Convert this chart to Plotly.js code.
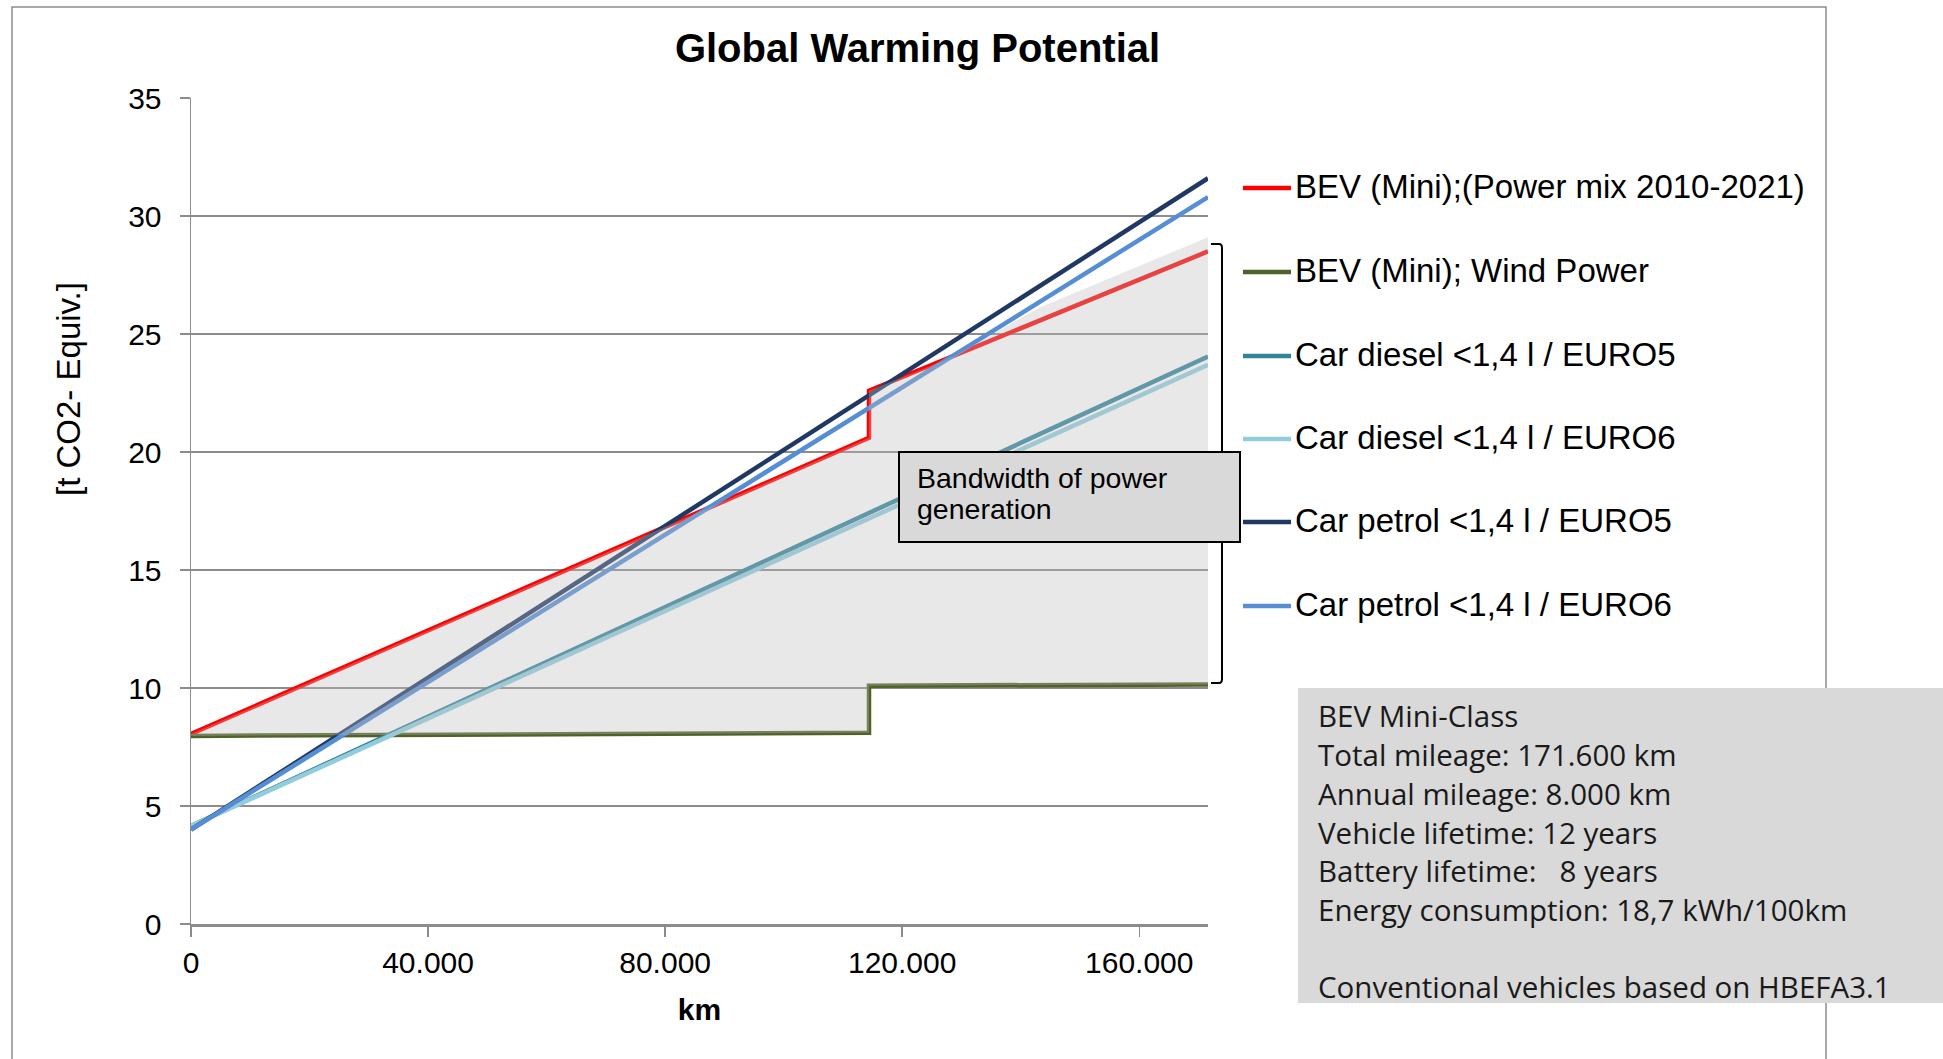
<!DOCTYPE html>
<html>
<head>
<meta charset="utf-8">
<script src="https://cdn.plot.ly/plotly-3.0.1.min.js"></script>
<style>html,body{margin:0;padding:0;background:#fff;}#chart{width:1943px;height:1059px;}</style>
</head>
<body>
<div id="chart"></div>
<script>
// ---- data ----
const seriesNames = [
  "BEV (Mini);(Power mix 2010-2021)",
  "BEV (Mini); Wind Power",
  "Car diesel <1,4 l / EURO5",
  "Car diesel <1,4 l / EURO6",
  "Car petrol <1,4 l / EURO5",
  "Car petrol <1,4 l / EURO6"
];
const kmBEV = [0, 114400, 114400, 171600];
const bevPowerMix = [8.05, 20.6, 22.6, 28.5];
const bevWind = [7.97, 8.1, 10.1, 10.15];
const kmCar = [0, 171600];
const dieselEuro5 = [4.15, 24.05];
const dieselEuro6 = [4.15, 23.7];
const petrolEuro5 = [4.0, 31.6];
const petrolEuro6 = [4.0, 30.8];
const kmBand = [0, 114400, 114400, 128700, 143000, 157300, 171600];
const bandLow = [7.97, 8.1, 10.1, 10.11, 10.12, 10.14, 10.15];
const bandHigh = [8.05, 20.6, 22.6, 24.05, 26.1, 27.6, 29.1];
const xTickVals = [0, 40000, 80000, 120000, 160000];
const xTickText = ["0", "40.000", "80.000", "120.000", "160.000"];
const yTickVals = [0, 5, 10, 15, 20, 25, 30, 35];
const infoLines = [
  "BEV Mini-Class",
  "Total mileage: 171.600 km",
  "Annual mileage: 8.000 km",
  "Vehicle lifetime: 12 years",
  "Battery lifetime:\u00a0\u00a0 8 years",
  "Energy consumption: 18,7 kWh/100km",
  "",
  "Conventional vehicles based on HBEFA3.1"
];
const bandLabelLines = ["Bandwidth of power", "generation"];

// ---- styles ----
const colors = ["#ff0000", "#4f6228", "#31849b", "#93cddd", "#1f3864", "#558ed5"];
const W = 1943, H = 1059;
const L = 191, R = 1208, T = 98, B = 924;
const px = x => (x - L) / (R - L);
const py = y => (B - y) / (B - T);
const ARIAL = "Liberation Sans, Arial, sans-serif";

const xs = [kmBEV, kmBEV, kmCar, kmCar, kmCar, kmCar];
const ys = [bevPowerMix, bevWind, dieselEuro5, dieselEuro6, petrolEuro5, petrolEuro6];

const traces = seriesNames.map((n, i) => ({
  type: "scatter", mode: "lines", name: n, x: xs[i], y: ys[i],
  line: {color: colors[i], width: 4.5}, showlegend: false, hoverinfo: "skip"
}));
// shaded bandwidth drawn over the lines (semi transparent)
traces.push({type: "scatter", mode: "lines", name: "band low", x: kmBand, y: bandLow, line: {width: 0, color: "rgba(0,0,0,0)"}, showlegend: false, hoverinfo: "skip"});
traces.push({type: "scatter", mode: "lines", name: "Bandwidth of power generation", x: kmBand, y: bandHigh, line: {width: 0, color: "rgba(0,0,0,0)"}, fill: "tonexty", fillcolor: "rgba(190,190,190,0.35)", showlegend: false, hoverinfo: "skip"});

const annotations = [];
const shapes = [
  // outer chart frame
  {type: "rect", xref: "paper", yref: "paper", x0: px(12), x1: px(1826), y0: py(7), y1: py(1080), line: {color: "#8c8c8c", width: 1.5}, fillcolor: "rgba(0,0,0,0)", layer: "below"},
  // bracket
  {type: "path", xref: "paper", yref: "paper", path: `M ${px(1211)} ${py(244)} L ${px(1219)} ${py(244)} Q ${px(1222)} ${py(244)} ${px(1222)} ${py(248)} L ${px(1222)} ${py(679)} Q ${px(1222)} ${py(683)} ${px(1219)} ${py(683)} L ${px(1211)} ${py(683)}`,
    line: {color: "#000", width: 2}, layer: "above"},
  // band label box
  {type: "rect", xref: "paper", yref: "paper", x0: px(899), x1: px(1240), y0: py(452), y1: py(542), line: {color: "#000", width: 2}, fillcolor: "#d9d9d9", layer: "above"},
  // info box
  {type: "rect", xref: "paper", yref: "paper", x0: px(1298), x1: px(1950), y0: py(688), y1: py(1003), line: {width: 0}, fillcolor: "#d9d9d9", layer: "above"}
];

// legend (key line + label per series)
const legendY = [188, 272, 356, 439, 522, 606];
seriesNames.forEach((n, i) => {
  shapes.push({type: "line", xref: "paper", yref: "paper", x0: px(1243), x1: px(1291), y0: py(legendY[i]), y1: py(legendY[i]),
    line: {color: colors[i], width: 4.5}, layer: "above"});
  annotations.push({xref: "paper", yref: "paper", x: px(1293), y: py(legendY[i] - 1.5), xanchor: "left", yanchor: "middle",
    text: n.replace(/</g, "&lt;"), showarrow: false, font: {family: ARIAL, size: 33, color: "#000"}});
});

// y axis title
annotations.push({xref: "paper", yref: "paper", x: px(68), y: py(389), xanchor: "center", yanchor: "middle",
  text: "[t CO2- Equiv.]", textangle: -90, showarrow: false, font: {family: ARIAL, size: 33, color: "#000"}});
// band label
const bandY = [478, 509];
bandLabelLines.forEach((t, i) => annotations.push({xref: "paper", yref: "paper", x: px(915), y: py(bandY[i]),
  xanchor: "left", yanchor: "middle", text: t, showarrow: false, font: {family: ARIAL, size: 28.5, color: "#000"}}));
// info box lines
const infoY = [715, 754, 793, 832, 870, 909, 948, 986];
infoLines.forEach((t, i) => { if (t) annotations.push({xref: "paper", yref: "paper", x: px(1316), y: py(infoY[i]),
  xanchor: "left", yanchor: "middle", text: t, showarrow: false, font: {family: "Open Sans, sans-serif", size: 29.5, color: "#1a1a1a"}}); });

const layout = {
  width: W, height: H,
  margin: {l: L, r: W - R, t: T, b: H - B, pad: 0},
  paper_bgcolor: "#fff", plot_bgcolor: "#fff",
  separators: ",.",
  showlegend: false,
  title: {text: "<b>Global Warming Potential</b>", x: 917.5 / W, xanchor: "center", xref: "container",
    y: 1 - 48 / H, yanchor: "middle", yref: "container", font: {family: ARIAL, size: 40, color: "#000"}},
  xaxis: {range: [0, 171600], tickvals: xTickVals, ticktext: xTickText, ticks: "outside", ticklen: 10, tickcolor: "#8c8c8c", tickwidth: 1.5,
    showgrid: false, zeroline: false, showline: true, linecolor: "#8c8c8c", linewidth: 2.5,
    tickfont: {family: ARIAL, size: 30, color: "#000"}, fixedrange: true,
    title: {text: "<b>km</b>", standoff: 22, font: {family: ARIAL, size: 30, color: "#000"}}},
  yaxis: {range: [0, 35], tickvals: yTickVals, ticks: "outside", ticklen: 10, tickcolor: "#8c8c8c", tickwidth: 1.5,
    showgrid: true, gridcolor: "#8c8c8c", gridwidth: 1.5, zeroline: false, showline: true, linecolor: "#8c8c8c", linewidth: 1.5,
    tickfont: {family: ARIAL, size: 30, color: "#000"}, ticklabelstandoff: 12, fixedrange: true},
  shapes: shapes,
  annotations: annotations
};

Plotly.newPlot("chart", traces, layout, {displayModeBar: false, staticPlot: true});
</script>
</body>
</html>
